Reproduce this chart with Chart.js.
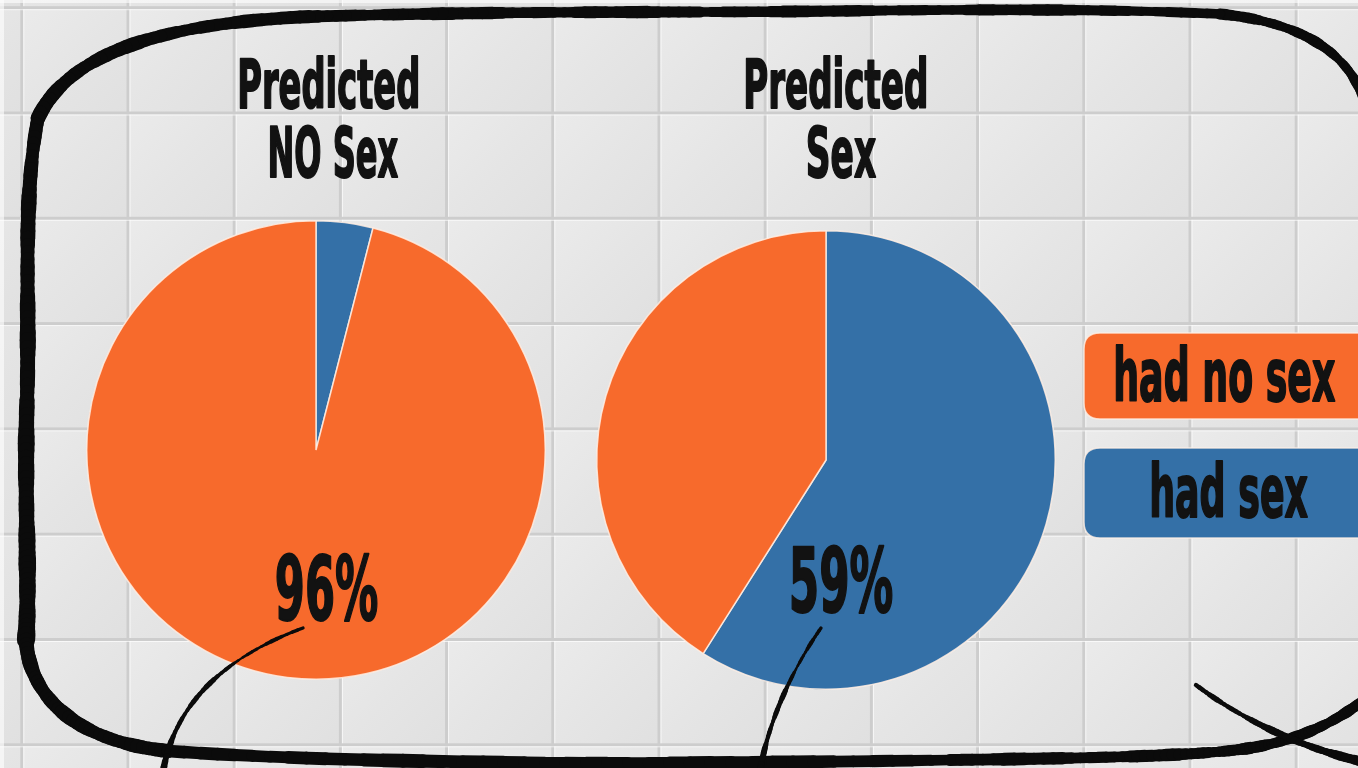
<!DOCTYPE html>
<html>
<head>
<meta charset="utf-8">
<title>Predicted vs actual</title>
<script src="https://cdn.jsdelivr.net/npm/chart.js@4.4.1/dist/chart.umd.min.js"></script>
<style>
  html, body { margin: 0; padding: 0; width: 1358px; height: 768px; overflow: hidden; background: #e5e5e5; }
  canvas { position: absolute; }
  #tiles, #overlay { left: 0; top: 0; }
  #overlay { pointer-events: none; }
  #pieNo { left: 84px; top: 218px; }
  #pieYes { left: 594px; top: 228px; }
</style>
</head>
<body>
<canvas id="tiles" width="1358" height="768"></canvas>
<canvas id="pieNo" width="464" height="464"></canvas>
<canvas id="pieYes" width="464" height="464"></canvas>
<canvas id="overlay" width="1358" height="768"></canvas>
<script>
// slices go clockwise from 12 o'clock in this order
const categories = ['had sex', 'had no sex'];
const sliceColors = ['#3470a7', '#f76a2c'];
const predictedNoSex = [4, 96];
const predictedSex = [59, 41];
const titleNoSex = ['Predicted', 'NO Sex'];
const titleSex = ['Predicted', 'Sex'];
const legendOrder = [1, 0];

const FONT = '"Liberation Sans Narrow", "DejaVu Sans Condensed", "Roboto", sans-serif';
const INK = '#121212';

// draws text so its ink box is `width` wide and `ascent` tall above the baseline
function fitText(ctx, txt, cx, baseline, ascent, width, color) {
  ctx.save();
  ctx.font = 'bold 100px ' + FONT;
  let m = ctx.measureText(txt);
  const size = 100 * ascent / m.actualBoundingBoxAscent;
  ctx.font = 'bold ' + size + 'px ' + FONT;
  m = ctx.measureText(txt);
  const L = m.actualBoundingBoxLeft, R = m.actualBoundingBoxRight;
  const sx = width / (L + R);
  ctx.translate(cx, baseline);
  ctx.scale(sx, 1);
  ctx.textAlign = 'left';
  ctx.textBaseline = 'alphabetic';
  ctx.fillStyle = color;
  ctx.strokeStyle = color;
  ctx.lineWidth = 2;
  ctx.lineJoin = 'round';
  const x0 = -(R - L) / 2;
  ctx.fillText(txt, x0, 0);
  ctx.strokeText(txt, x0, 0);
  ctx.restore();
}

// ---- tiled wall ----
(function drawTiles() {
  const c = document.getElementById('tiles').getContext('2d');
  const gx0 = 21.8, gw = 106.2, gy0 = 7.7, gh = 105.3;
  c.fillStyle = '#e5e5e5';
  c.fillRect(0, 0, 1358, 768);
  for (let x = gx0 - gw; x < 1358; x += gw) {
    for (let y = gy0 - gh; y < 768; y += gh) {
      const g = c.createLinearGradient(x, y, x + gw, y + gh);
      g.addColorStop(0, '#ebebeb');
      g.addColorStop(0.5, '#e5e5e5');
      g.addColorStop(1, '#e0e0e0');
      c.fillStyle = g;
      c.fillRect(x, y, gw, gh);
    }
  }
  for (let x = gx0; x < 1358; x += gw) {
    c.fillStyle = '#cdcdcd'; c.fillRect(x - 1.5, 0, 3, 768);
    c.fillStyle = 'rgba(255,255,255,0.7)'; c.fillRect(x + 1.5, 0, 1, 768);
  }
  for (let y = gy0; y < 768; y += gh) {
    c.fillStyle = '#cdcdcd'; c.fillRect(0, y - 1.5, 1358, 3);
    c.fillStyle = 'rgba(255,255,255,0.7)'; c.fillRect(0, y + 1.5, 1358, 1);
  }
  c.fillStyle = 'rgba(255,255,255,0.6)';
  c.fillRect(0, 0, 4, 768);
  c.fillRect(0, 0, 1358, 3);
})();

// ---- percentage printed inside each pie ----
const shareLabel = {
  id: 'shareLabel',
  afterDatasetsDraw(chart, args, opts) {
    const arc = chart.getDatasetMeta(0).data[opts.index];
    const value = chart.data.datasets[0].data[opts.index];
    fitText(chart.ctx, value + '%', arc.x + opts.dx, arc.y + opts.dy, 67, 100, INK);
  }
};

function makePie(id, values, label) {
  return new Chart(document.getElementById(id), {
    type: 'pie',
    data: {
      labels: categories,
      datasets: [{
        data: values,
        backgroundColor: sliceColors,
        borderColor: 'rgba(255,238,228,0.85)',
        borderWidth: 1.5
      }]
    },
    options: {
      responsive: false,
      animation: false,
      events: [],
      layout: { padding: 2 },
      plugins: {
        legend: { display: false },
        tooltip: { enabled: false },
        shareLabel: label
      }
    },
    plugins: [shareLabel]
  });
}

makePie('pieNo', predictedNoSex, { index: 1, dx: 11, dy: 170 });
makePie('pieYes', predictedSex, { index: 0, dx: 16, dy: 152 });

// ---- titles, legend and marker strokes ----
const ov = document.getElementById('overlay').getContext('2d');

fitText(ov, titleNoSex[0], 329, 108, 51, 178, INK);
fitText(ov, titleNoSex[1], 334, 177, 52, 128, INK);
fitText(ov, titleSex[0], 836, 108, 51, 180, INK);
fitText(ov, titleSex[1], 842, 177, 52, 68, INK);

function roundRect(c, x, y, w, h, r) {
  c.beginPath();
  c.moveTo(x + r, y);
  c.lineTo(x + w - r, y);
  c.quadraticCurveTo(x + w, y, x + w, y + r);
  c.lineTo(x + w, y + h - r);
  c.quadraticCurveTo(x + w, y + h, x + w - r, y + h);
  c.lineTo(x + r, y + h);
  c.quadraticCurveTo(x, y + h, x, y + h - r);
  c.lineTo(x, y + r);
  c.quadraticCurveTo(x, y, x + r, y);
  c.closePath();
}

const legendBoxes = [
  { y: 333, h: 86, cx: 1225.5, base: 401, asc: 56, w: 219 },
  { y: 448, h: 90, cx: 1230, base: 517, asc: 55, w: 156 }
];
legendOrder.forEach((k, i) => {
  const b = legendBoxes[i];
  roundRect(ov, 1084, b.y, 300, b.h, 16);
  ov.fillStyle = sliceColors[k];
  ov.fill();
  ov.strokeStyle = 'rgba(255,240,230,0.8)';
  ov.lineWidth = 1.5;
  ov.stroke();
  fitText(ov, categories[k], b.cx, b.base, b.asc, b.w, INK);
});

// marker stroke: cubic segments [x0,y0,c1x,c1y,c2x,c2y,x1,y1], width ramps w0 -> w1
function brush(c, segs, w0, w1) {
  const pts = [];
  segs.forEach(s => {
    for (let i = 0; i <= 40; i++) {
      const t = i / 40, u = 1 - t;
      pts.push([
        u*u*u*s[0] + 3*u*u*t*s[2] + 3*u*t*t*s[4] + t*t*t*s[6],
        u*u*u*s[1] + 3*u*u*t*s[3] + 3*u*t*t*s[5] + t*t*t*s[7]
      ]);
    }
  });
  c.save();
  c.strokeStyle = '#0b0b0b';
  c.lineCap = 'round';
  c.lineJoin = 'round';
  for (let i = 1; i < pts.length; i++) {
    const f = i / (pts.length - 1);
    const wob = Math.sin(i * 0.37) * 0.8 + Math.sin(i * 1.3) * 0.5;
    c.lineWidth = Math.max(1, w0 + (w1 - w0) * f + wob);
    c.beginPath();
    c.moveTo(pts[i - 1][0], pts[i - 1][1]);
    c.lineTo(pts[i][0], pts[i][1]);
    c.stroke();
  }
  c.restore();
}

// top-right corner and top edge
brush(ov, [
  [1364, 100, 1348, 52, 1300, 22, 1220, 14],
  [1220, 14, 1050, 6, 850, 12, 700, 12],
  [700, 12, 560, 12, 420, 13, 300, 17]
], 9, 12);
// top-left corner down the left side
brush(ov, [
  [300, 17, 170, 24, 70, 50, 38, 118],
  [38, 118, 22, 200, 30, 300, 27, 400],
  [27, 400, 24, 500, 30, 580, 26, 640]
], 12, 17);
// bottom-left corner, bottom edge, rising at the right
brush(ov, [
  [26, 640, 30, 700, 80, 742, 168, 751],
  [168, 751, 380, 766, 700, 764, 950, 760],
  [950, 760, 1100, 758, 1200, 756, 1250, 748],
  [1250, 748, 1300, 740, 1335, 722, 1364, 700]
], 14, 10);
// crossing stroke in the bottom-right corner
brush(ov, [[1196, 685, 1240, 718, 1300, 748, 1364, 762]], 3.5, 9);

// pointer strokes from the percentages
brush(ov, [[303, 628, 230, 655, 175, 700, 163, 772]], 2.5, 5.5);
brush(ov, [[821, 628, 795, 665, 768, 720, 760, 772]], 2.5, 5.5);
</script>
</body>
</html>
